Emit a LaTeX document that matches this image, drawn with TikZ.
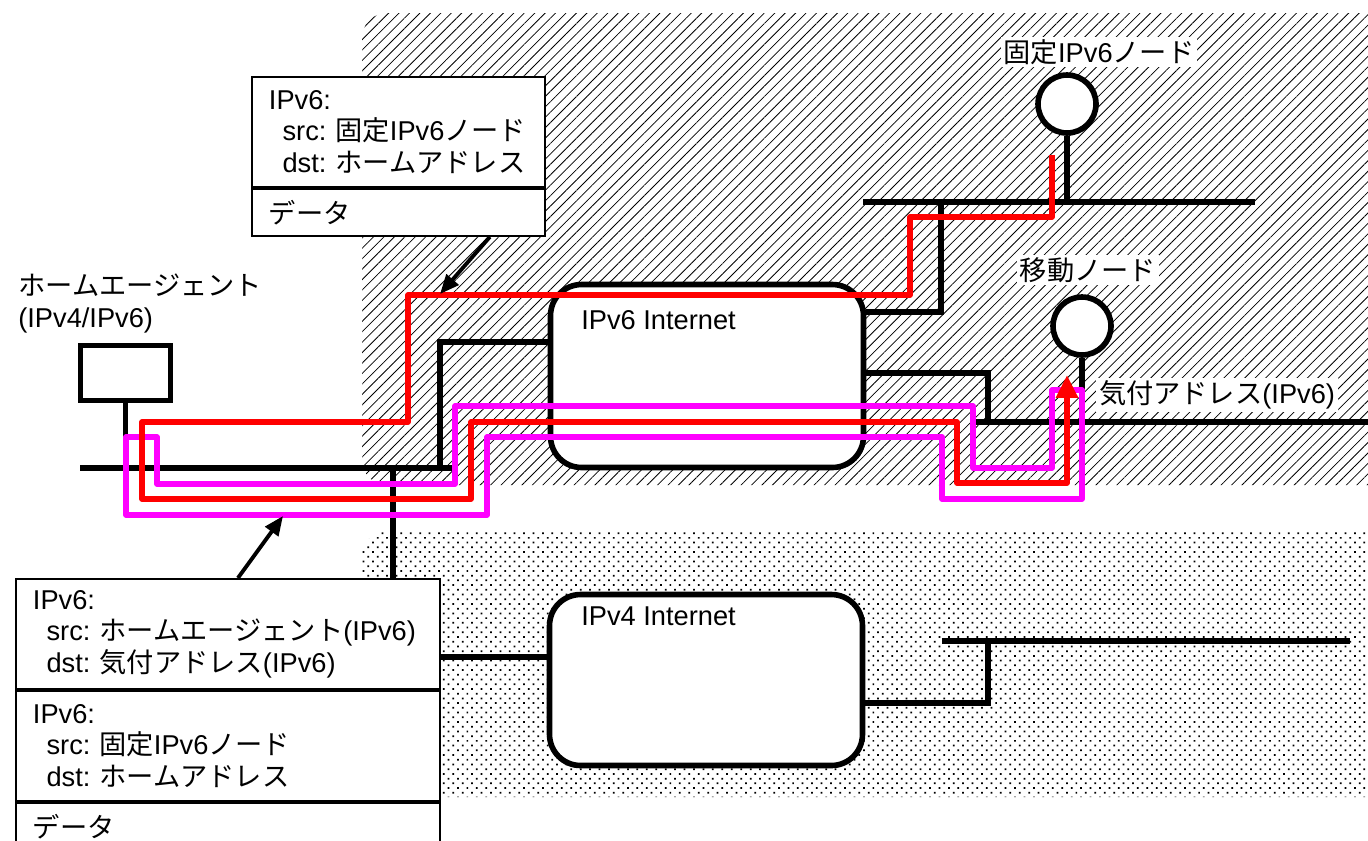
\documentclass[tikz,border=0pt]{standalone}
\usepackage{fontspec}
\setmainfont{Liberation Sans}
\newfontfamily\jpfont{Noto Sans CJK JP}
\newcommand{\jp}[1]{{\jpfont #1}}
\frenchspacing
\usetikzlibrary{arrows.meta,positioning,patterns,patterns.meta}
\definecolor{routered}{RGB}{255,0,0}
\definecolor{tunnelpink}{RGB}{255,0,255}

\begin{document}
\begin{tikzpicture}[
  x=0.02cm, y=-0.02cm,
  font=\fontsize{15.5pt}{17.9pt}\selectfont,
  wire/.style={line width=3.2pt},
  cloud/.style={draw,fill=white,line width=3.2pt,rounded corners=0.62cm,minimum width=6.26cm},
  host/.style={circle,draw,fill=white,line width=3.2pt,minimum size=1.16cm,inner sep=0pt},
  pkt/.style={draw,fill=white,line width=1.1pt,align=left,inner xsep=0.34cm,inner ysep=0pt},
  route/.style={draw=routered,line width=3.2pt,line join=round},
  tunnel/.style={draw=tunnelpink,line width=3.2pt,line join=round},
  tag/.style={fill=white,inner sep=1.5pt},
  callout/.style={-{Triangle[length=11pt,width=9pt]},line width=2.2pt}
]
\useasboundingbox (0,0) rectangle (1368,840);

% ---- areas ----
\fill[pattern={Lines[angle=45,distance=4.2pt,line width=0.45pt]},rounded corners=0.5cm]
  (362,13) rectangle (1420,485);
\fill[pattern={Dots[angle=45,distance=3.8pt,radius=0.7pt]},pattern color=black,rounded corners=0.5cm]
  (362,531) rectangle (1420,797);

% ---- hosts and clouds ----
\node[host] (fixed) at (1067,104) {};
\node[host] (mobile) at (1082,326) {};
\node[draw,fill=white,line width=3.2pt,minimum width=1.8cm,minimum height=1.1cm] (ha) at (125.5,373) {};
\node[cloud,minimum height=3.66cm] (v6) at (707,376) {};
\node[cloud,minimum height=3.42cm] (v4) at (706,680) {};
\node[anchor=west,inner sep=0pt] (v6Lbl) at (581,320) {IPv6 Internet};
\node[anchor=west,inner sep=0pt] (v4Lbl) at (581,616) {IPv4 Internet};

% ---- links ----
\coordinate (homeW) at (80,468);   \coordinate (homeE) at (452,468);
\coordinate (upW) at (863,202);    \coordinate (upE) at (1255,202);
\coordinate (lowW) at (975,422);   \coordinate (lowE) at (1368,422);
\coordinate (farW) at (942,641);   \coordinate (farE) at (1350,641);

\draw[wire] (homeW) -- (homeE);
\draw[wire] (upW) -- (upE);
\draw[wire] (lowW) -- (lowE);
\draw[wire] (farW) -- (farE);
\draw[wire] (ha) -- (ha |- homeW);
\draw[wire] (fixed) -- (fixed |- upW);
\draw[wire] (mobile) -- (mobile |- lowW);
\draw[wire] (440,468) |- ([yshift=0.68cm]v6.west);
\draw[wire] (393,468) |- ([yshift=0.46cm]v4.west);
\draw[wire] ([yshift=1.28cm]v6.east) -| (941,202);
\draw[wire] ([yshift=0.06cm]v6.east) -| (988,422);
\draw[wire] ([yshift=-0.46cm]v4.east) -| (988,641);

% ---- tunnel and route ----
\draw[tunnel] (126,437) -- (157,437) -- (157,484) -- (455,484) -- (455,406)
  -- (973,406) -- (973,468) -- (1052,468) -- (1052,390) -- (1082,390)
  -- (1082,499) -- (942,499) -- (942,437) -- (487,437) -- (487,515)
  -- (126,515) -- cycle;

\coordinate (rtStart) at (1052,155);
\coordinate (rtEnd) at (1067,375);
\draw[route,-{Triangle[length=13pt,width=12pt]}] (rtStart) -- (1052,217)
  -- (910,217) -- (910,295) -- (408,295) -- (408,422) -- (142,422)
  -- (142,499) -- (471,499) -- (471,422) -- (957,422) -- (957,483)
  -- (1067,483) -- (rtEnd);

% ---- packets ----
\node[pkt,text width=5.18cm,minimum height=2.2cm,anchor=north west] (topHdr) at (251,76)
  {IPv6:\\\hspace*{0.5em}src:~\jp{固定}IPv6\jp{ノード}\\\hspace*{0.5em}dst:~\jp{ホームアドレス}};
\node[pkt,text width=5.18cm,minimum height=0.94cm,below=0pt of topHdr] (topData) {\jp{データ}};

\node[pkt,text width=7.8cm,minimum height=2.2cm,anchor=north west] (botOuter) at (15,578)
  {IPv6:\\\hspace*{0.5em}src:~\jp{ホームエージェント}(IPv6)\\\hspace*{0.5em}dst:~\jp{気付アドレス}(IPv6)};
\node[pkt,text width=7.8cm,minimum height=2.2cm,below=0pt of botOuter] (botInner)
  {IPv6:\\\hspace*{0.5em}src:~\jp{固定}IPv6\jp{ノード}\\\hspace*{0.5em}dst:~\jp{ホームアドレス}};
\node[pkt,text width=7.8cm,minimum height=0.94cm,below=0pt of botInner] (botData) {\jp{データ}};

\coordinate (tipTop) at (440,294);
\coordinate (tipBot) at (283,516);
\draw[callout] ([xshift=-1.12cm]topData.south east) -- (tipTop);
\draw[callout] ([xshift=0.2cm]botOuter.north) -- (tipBot);

% ---- labels ----
\node[align=left,anchor=north west,inner sep=0pt] (haLbl) at (18,274)
  {\jp{ホームエージェント}\\(IPv4/IPv6)};
\node[tag] (fixedLbl) at (1099,52) {\jp{固定}IPv6\jp{ノード}};
\node[tag] (mobileLbl) at (1088,270) {\jp{移動ノード}};
\node[tag] (coaLbl) at (1217,395) {\jp{気付アドレス}(IPv6)};

\end{tikzpicture}
\end{document}
